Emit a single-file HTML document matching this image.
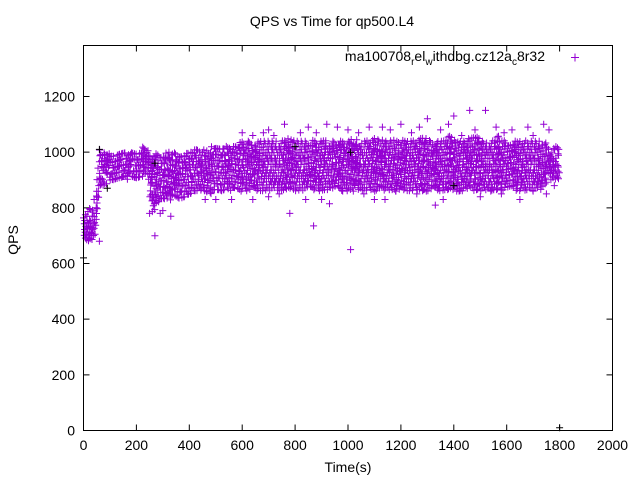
<!DOCTYPE html>
<html><head><meta charset="utf-8"><style>
body{margin:0;background:#fff}
svg{display:block;font-family:"Liberation Sans",sans-serif}
</style></head><body>
<svg id="chart" width="640" height="480" viewBox="0 0 640 480">
<rect width="640" height="480" fill="#fff"/>
<text x="332" y="26" font-size="14" text-anchor="middle">QPS vs Time for qp500.L4</text>
<text transform="translate(18,240) rotate(-90)" font-size="14" text-anchor="middle">QPS</text>
<text x="348" y="472" font-size="14" text-anchor="middle">Time(s)</text>
<g id="ticks"></g>
<g id="marks"></g>
<rect x="83.5" y="45.5" width="529" height="385" fill="none" stroke="#000" stroke-width="1"/>
<g>
<text x="545" y="61" font-size="14" text-anchor="end">ma100708<tspan font-size="10" dy="4">r</tspan><tspan dy="-4">el</tspan><tspan font-size="10" dy="4">w</tspan><tspan dy="-4">ithdbg.cz12a</tspan><tspan font-size="10" dy="4">c</tspan><tspan dy="-4">8r32</tspan></text>
<path d="M571 57.5h8M575 53.5v8" stroke="#9400d3" stroke-width="1"/>
</g>
</svg>
<script>
const xTicks=[0,200,400,600,800,1000,1200,1400,1600,1800,2000];
const yTicks=[0,200,400,600,800,1000,1200];
// per-20s bands (t = 0,20,...,1800): low and high QPS of dense cloud
const bandLo=[680,680,690,880,880,900,900,900,900,910,900,900,900,780,820,830,820,840,830,840,850,860,860,860,850,860,860,870,860,860,860,860,870,860,860,860,860,860,860,870,860,860,860,870,860,860,860,860,870,860,860,870,860,860,860,860,870,860,860,860,870,860,860,860,860,860,870,860,860,860,860,860,860,870,860,860,860,860,860,860,860,870,860,860,860,860,860,870,900,900,900];
const bandHi=[800,800,800,1010,1000,1000,1000,1000,1000,1010,1010,1020,1010,1000,1000,1000,1000,1000,1000,1000,1010,1010,1010,1010,1020,1020,1020,1030,1030,1030,1040,1040,1040,1040,1040,1040,1040,1040,1050,1050,1040,1040,1040,1040,1050,1050,1040,1040,1040,1040,1050,1050,1040,1040,1050,1050,1040,1050,1050,1040,1040,1050,1040,1050,1060,1050,1040,1050,1050,1060,1050,1040,1050,1050,1060,1050,1040,1040,1060,1050,1040,1040,1050,1050,1040,1040,1040,1040,1020,1020,1020];
// hand-read scatter irregularity (QPS offsets within cloud)
const jitter=[0,17,6,22,11,3,19,8,25,14,2,21,9];
const gapSkip=[0,1,0,0,0,0,1,0,0,0,0,0,1,0,0,0,0];
const outT=[270,300,330,460,500,560,600,640,640,760,780,870,920,930,1010,1020,1080,1100,1200,1300,1330,1400,1460,1520,1650,1740,1780,40,60,
 680,700,720,820,850,880,960,1000,1040,1130,1160,1240,1270,1350,1380,1430,1480,1560,1590,1620,1680,1700,1760,
 700,740,840,900,980,1060,1140,1180,1260,1360,1420,1500,1540,1580,1700,1750,250,290];
const outQ=[700,790,770,830,830,830,1070,1060,830,1100,780,735,1100,815,650,860,1090,830,1100,1120,810,1130,1150,1150,830,1100,880,830,680,
 1070,1080,1060,1070,1090,1070,1090,1080,1070,1090,1080,1070,1090,1080,1100,1060,1080,1090,1070,1080,1090,1060,1080,
 840,850,830,830,860,850,830,860,850,830,860,840,860,850,860,850,780,780];
const blackT=[0,60,90,1800,270,1010,1400,800];
const blackQ=[620,1010,870,10,960,1000,880,1020];
const X=t=>83.5+t*529/2000, Y=v=>430.5-v*334/1200;
const NS='http://www.w3.org/2000/svg';
const tk=document.getElementById('ticks'), mk=document.getElementById('marks');
function mkEl(tag,attrs,parent){const e=document.createElementNS(NS,tag);for(const k in attrs)e.setAttribute(k,attrs[k]);parent.appendChild(e);return e;}
xTicks.forEach(v=>{
 const p=mkEl('path',{d:`M${X(v)} 430.5v-6M${X(v)} 45.5v6`,stroke:'#000'},tk);
 
 
 const t=mkEl('text',{x:X(v),y:450,'font-size':14,'text-anchor':'middle'},tk);t.textContent=v;
 
 
});
yTicks.forEach(v=>{
 const p=mkEl('path',{d:`M83.5 ${Y(v)}h6M612.5 ${Y(v)}h-6`,stroke:'#000'},tk);
 
 
 const t=mkEl('text',{x:75,y:Y(v)+5,'font-size':14,'text-anchor':'end'},tk);t.textContent=v;
 
 
});
let d='';
const cross=(t,q)=>{const x=X(t),y=Y(q);return `M${(x-3.5).toFixed(1)} ${y.toFixed(1)}h7M${x.toFixed(1)} ${(y-3.5).toFixed(1)}v7`;};
let k=0;
for(let i=0;i<bandLo.length-1;i++){
 for(let s=0;s<20;s+=5){
  const t=i*20+s;
  const lo=bandLo[i]+(bandLo[i+1]-bandLo[i])*s/20, hi=bandHi[i]+(bandHi[i+1]-bandHi[i])*s/20;
  for(let q=lo+jitter[k%jitter.length]*0.6;q<=hi;q+=21){
   k++;
   if(gapSkip[k%gapSkip.length]) continue;
   d+=cross(t+(jitter[(k+3)%jitter.length]%5),q);
  }
 }
}
for(let i=0;i<outT.length;i++) d+=cross(outT[i],outQ[i]);
const pp=mkEl('path',{d:d,stroke:'#9400d3','stroke-width':1,fill:'none'},mk);


let db='';
for(let i=0;i<blackT.length;i++) db+=cross(blackT[i],blackQ[i]);
const pb=mkEl('path',{d:db,stroke:'#000','stroke-width':1,fill:'none'},mk);


</script>
</body></html>
